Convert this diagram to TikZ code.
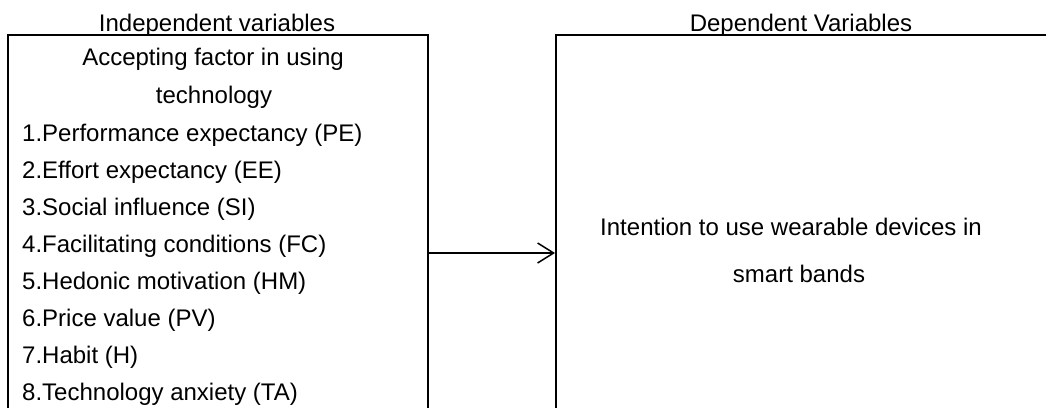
\documentclass[tikz,border=0pt]{standalone}
\usepackage{fontspec}
\setmainfont{Liberation Sans}
\usepackage{tikz}
\usetikzlibrary{arrows.meta,positioning}

\begin{document}
\begin{tikzpicture}[x=1pt,y=-1pt,
  font=\fontsize{24}{28}\selectfont,
  box/.style={draw,line width=2pt,minimum height=436pt,inner sep=0pt},
  hd/.style={anchor=base},
  item/.style={anchor=base west,inner sep=0pt}]
  \useasboundingbox (0,0) rectangle (1046,407);
  \clip (0,0) rectangle (1046,407);
  % Boxes (run past the bottom edge)
  \node[box,minimum width=420pt] (indep) at (218,253) {};
  \node[box,minimum width=504pt] (dep) at (808,253) {};
  % Headings
  \node[hd] (indeph) at (217,31) {Independent variables};
  \node[hd] (deph) at (801,31) {Dependent Variables};
  % Left box
  \node[hd] (acc1) at (213,65) {Accepting factor in using};
  \node[hd] (acc2) at (214,103) {technology};
  \node[item] (pe) at (22,141.5) {1.Performance expectancy (PE)};
  \node[item] (ee) at (22,178.5) {2.Effort expectancy (EE)};
  \node[item] (si) at (22,215.5) {3.Social influence (SI)};
  \node[item] (fc) at (22,252.5) {4.Facilitating conditions (FC)};
  \node[item] (hm) at (22,289.5) {5.Hedonic motivation (HM)};
  \node[item] (pv) at (22,326.5) {6.Price value (PV)};
  \node[item] (hb) at (22,363.5) {7.Habit (H)};
  \node[item] (ta) at (22,400.5) {8.Technology anxiety (TA)};
  % Right box
  \node[hd] (int1) at (791,235) {Intention to use wearable devices in};
  \node[hd] (int2) at (799,282) {smart bands};
  % arrow
  \draw[-{Straight Barb[length=16pt,width=20pt]},line width=1.5pt] (indep) -- (dep);
\end{tikzpicture}
\end{document}
